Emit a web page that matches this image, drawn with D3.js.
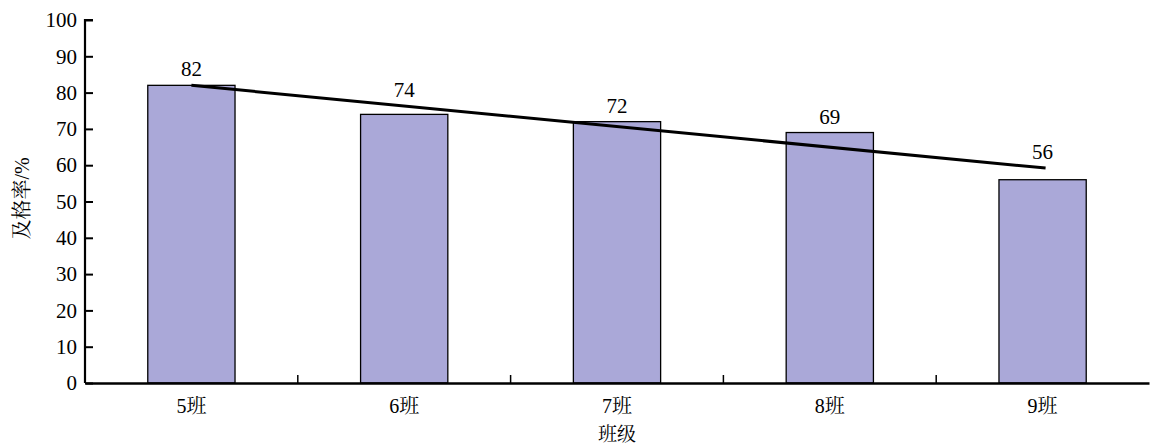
<!DOCTYPE html>
<html>
<head>
<meta charset="utf-8">
<script src="https://cdn.jsdelivr.net/npm/d3@7"></script>
<style>
  html, body { margin: 0; padding: 0; background: #fff; }
  svg { display: block; }
  svg text { font-family: "Liberation Serif", "Times New Roman", "Noto Serif CJK SC", "Noto Sans CJK SC", serif !important; fill: #000; }
</style>
</head>
<body>
<svg id="chart" width="1150" height="446"></svg>
<script>
const categories = ["5班", "6班", "7班", "8班", "9班"];
const passRates = [82, 74, 72, 69, 56];
const trendEnds = [82, 59.2];   // linear trend line value at first and last class
const yTicks = [0, 10, 20, 30, 40, 50, 60, 70, 80, 90, 100];
const xTitle = "班级";
const yTitle = "及格率/%";

(function () {
const svg = d3.select("#chart");
const pLeft = 85, pRight = 1149, pTop = 20, pBottom = 383;

const x = d3.scaleBand().domain(categories).range([pLeft, pRight]).paddingInner(0).paddingOuter(0);
const y = d3.scaleLinear().domain([0, 100]).range([pBottom, pTop]);
const barW = x.bandwidth() * 0.41;

// bars
svg.append("g").selectAll("rect").data(passRates).join("rect")
  .attr("x", (d, i) => x(categories[i]) + x.bandwidth() / 2 - barW / 2)
  .attr("y", d => y(d))
  .attr("width", barW)
  .attr("height", d => y(0) - y(d))
  .attr("fill", "#aaa8d8")
  .attr("stroke", "#000")
  .attr("stroke-width", 1.3);

// trend line
const cx = c => x(c) + x.bandwidth() / 2;
const first = categories[0], last = categories[categories.length - 1];
const trendY = i => trendEnds[0] + (trendEnds[1] - trendEnds[0]) * i / (categories.length - 1);
svg.append("line")
  .attr("x1", cx(first)).attr("y1", y(trendEnds[0]))
  .attr("x2", cx(last) + 3).attr("y2", y(trendEnds[1]))
  .attr("stroke", "#000").attr("stroke-width", 3);

// value labels
svg.append("g").selectAll("text").data(passRates).join("text")
  .attr("x", (d, i) => cx(categories[i]))
  .attr("y", (d, i) => Math.min(y(d), y(trendY(i))) - 9)
  .attr("text-anchor", "middle")
  .attr("font-size", 21)
  .text(d => d);

// y axis
const yAxis = svg.append("g").attr("transform", `translate(${pLeft},0)`)
  .call(d3.axisRight(y).tickValues(yTicks).tickSize(8).tickFormat(d3.format("d")));
yAxis.attr("font-family", null);
yAxis.select(".domain").attr("stroke", "#000").attr("stroke-width", 2.2).attr("d", `M8,${pTop}H0V${pBottom}`);
yAxis.selectAll(".tick line").attr("stroke", "#000").attr("stroke-width", 2);
yAxis.selectAll(".tick text").attr("x", -8).attr("text-anchor", "end")
  .attr("font-size", 21).attr("fill", "#000");

// x axis
const xAxis = svg.append("g").attr("transform", `translate(0,${pBottom})`)
  .call(d3.axisBottom(x).tickSize(0).tickSizeOuter(0));
xAxis.attr("font-family", null);
xAxis.select(".domain").attr("stroke", "#000").attr("stroke-width", 2.5);
xAxis.selectAll(".tick text").attr("dy", 0).attr("y", 30)
  .attr("font-size", 20).attr("fill", "#000");
// boundary ticks between classes
svg.append("g").selectAll("line").data(categories.slice(1)).join("line")
  .attr("x1", d => x(d)).attr("x2", d => x(d))
  .attr("y1", pBottom).attr("y2", pBottom - 8)
  .attr("stroke", "#000").attr("stroke-width", 1.5);

// titles
svg.append("text")
  .attr("x", cx(categories[2])).attr("y", 441)
  .attr("text-anchor", "middle").attr("font-size", 19)
  .text(xTitle);
svg.append("text")
  .attr("transform", `translate(29,${(pTop + pBottom) / 2 - 3}) rotate(-90)`)
  .attr("text-anchor", "middle").attr("font-size", 20)
  .text(yTitle);
})();
</script>
</body>
</html>
